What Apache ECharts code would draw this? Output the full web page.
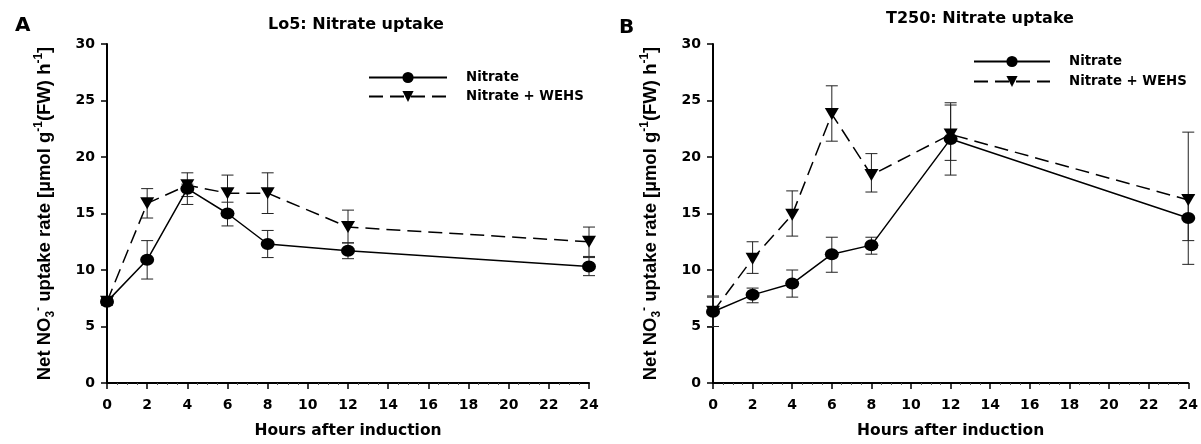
<!DOCTYPE html>
<html>
<head>
<meta charset="utf-8">
<script src="https://cdn.jsdelivr.net/npm/echarts@6/dist/echarts.min.js"></script>
<style>
  html, body { margin: 0; padding: 0; background: #fff; }
  #main { width: 1201px; height: 444px; }
</style>
</head>
<body>
<div id="main"></div>
<script>
// hours after induction
var hours = [0, 2, 4, 6, 8, 12, 24];
var xTicks = [0, 2, 4, 6, 8, 10, 12, 14, 16, 18, 20, 22, 24];
var yTicks = [0, 5, 10, 15, 20, 25, 30];

// panel A: Lo5
var lo5Nitrate     = [7.2, 10.9, 17.2, 15.0, 12.3, 11.7, 10.3];
var lo5NitrateLow  = [6.9, 9.2, 15.8, 13.9, 11.1, 11.0, 9.5];
var lo5NitrateHigh = [7.5, 12.6, 17.6, 16.0, 13.5, 12.4, 11.1];
var lo5Wehs        = [7.2, 15.9, 17.5, 16.8, 16.8, 13.8, 12.5];
var lo5WehsLow     = [6.9, 14.6, 16.5, 15.2, 15.0, 12.4, 11.2];
var lo5WehsHigh    = [7.5, 17.2, 18.6, 18.4, 18.6, 15.3, 13.8];

// panel B: T250
var t250Nitrate     = [6.3, 7.8, 8.8, 11.4, 12.2, 21.6, 14.6];
var t250NitrateLow  = [5.0, 7.1, 7.6, 9.8, 11.4, 18.4, 10.5];
var t250NitrateHigh = [7.6, 8.4, 10.0, 12.9, 12.9, 24.8, 16.6];
var t250Wehs        = [6.3, 11.0, 14.9, 23.8, 18.4, 22.0, 16.2];
var t250WehsLow     = [5.0, 9.7, 13.0, 21.4, 16.9, 19.7, 12.6];
var t250WehsHigh    = [7.7, 12.5, 17.0, 26.3, 20.3, 24.6, 22.2];

var FONT = '"DejaVu Sans", "Liberation Sans", Arial, sans-serif';
var VFONT = '"Liberation Sans", Arial, sans-serif';
var TRI = 'path://M0,0 L12,0 L6,11 Z';

function pairs(ys) { return hours.map(function (h, i) { return [h, ys[i]]; }); }
function errData(lo, hi) { return hours.map(function (h, i) { return [h, lo[i], hi[i]]; }); }

function renderErr(params, api) {
  var x = api.value(0);
  var p1 = api.coord([x, api.value(1)]);
  var p2 = api.coord([x, api.value(2)]);
  var w = 6;
  var st = { stroke: '#222', lineWidth: 1 };
  return {
    type: 'group',
    children: [
      { type: 'line', shape: { x1: p1[0], y1: p1[1], x2: p2[0], y2: p2[1] }, style: st },
      { type: 'line', shape: { x1: p1[0] - w, y1: p1[1], x2: p1[0] + w, y2: p1[1] }, style: st },
      { type: 'line', shape: { x1: p2[0] - w, y1: p2[1], x2: p2[0] + w, y2: p2[1] }, style: st }
    ]
  };
}

var yName = '{n|Net NO}{sub|3}{sup|-}{n| uptake rate [µmol g}{sup|-1}{n|(FW) h}{sup|-1}{n|]}';
var yRich = {
  n:   { fontSize: 18.5, fontWeight: 'bold', fontFamily: VFONT, color: '#000', lineHeight: 24 },
  sup: { fontSize: 12, fontWeight: 'bold', fontFamily: VFONT, color: '#000', lineHeight: 24, verticalAlign: 'top' },
  sub: { fontSize: 12, fontWeight: 'bold', fontFamily: VFONT, color: '#000', lineHeight: 24, verticalAlign: 'bottom' }
};

function xAxisFor(idx) {
  return {
    type: 'value', gridIndex: idx, min: 0, max: 24, interval: 2,
    name: 'Hours after induction', nameLocation: 'middle', nameGap: 40,
    nameTextStyle: { fontSize: 15.5, fontWeight: 'bold', fontFamily: FONT, color: '#000' },
    axisLine: { lineStyle: { color: '#000', width: 2 } },
    axisTick: { length: 6, lineStyle: { color: '#000', width: 1.5 } },
    minorTick: { show: true, splitNumber: 4, length: 2, lineStyle: { color: '#555', width: 1 } },
    axisLabel: { fontSize: 14, fontWeight: 'bold', fontFamily: FONT, color: '#000', margin: 15,
      formatter: function (v) { return xTicks.indexOf(v) >= 0 ? String(v) : ''; } },
    splitLine: { show: false }
  };
}
function yAxisFor(idx) {
  return {
    type: 'value', gridIndex: idx, min: 0, max: 30, interval: 5,
    name: yName, nameLocation: 'middle', nameGap: 50, nameRotate: 90,
    nameTextStyle: { rich: yRich },
    axisLine: { show: true, lineStyle: { color: '#000', width: 2 } },
    axisTick: { show: true, length: 6, lineStyle: { color: '#000', width: 1.5 } },
    axisLabel: { fontSize: 14, fontWeight: 'bold', fontFamily: FONT, color: '#000', margin: 12,
      formatter: function (v) { return yTicks.indexOf(v) >= 0 ? String(v) : ''; } },
    splitLine: { show: false }
  };
}

function lineSeries(name, data, idx, dashed, symbol) {
  return {
    name: name, type: 'line', xAxisIndex: idx, yAxisIndex: idx, data: pairs(data),
    symbol: symbol, symbolSize: [14, 12], z: 3,
    lineStyle: { color: '#000', width: 1.5, type: dashed ? [14, 7] : 'solid' },
    itemStyle: { color: '#000' }
  };
}
function errSeries(lo, hi, idx) {
  return {
    type: 'custom', xAxisIndex: idx, yAxisIndex: idx, data: errData(lo, hi),
    renderItem: renderErr, z: 2, silent: true
  };
}

var legendText = { fontSize: 13.3, fontWeight: 'bold', fontFamily: FONT, color: '#000', padding: [0, 0, 0, 14] };
var titleText = { fontSize: 16, fontWeight: 'bold', fontFamily: FONT, color: '#000' };
var letterText = { fontSize: 20, fontWeight: 'bold', fontFamily: FONT, color: '#000' };

var option = {
  animation: false,
  backgroundColor: '#fff',
  title: [
    { text: 'Lo5: Nitrate uptake', left: 356, top: 17, textAlign: 'center', padding: 0, textStyle: titleText },
    { text: 'T250: Nitrate uptake', left: 980, top: 11, textAlign: 'center', padding: 0, textStyle: titleText },
    { text: 'A', left: 15, top: 16, padding: 0, textStyle: letterText },
    { text: 'B', left: 619, top: 18, padding: 0, textStyle: letterText }
  ],
  legend: [
    { left: 368, top: 71, orient: 'vertical', padding: 0, itemWidth: 78, itemHeight: 14, itemGap: 6,
      textStyle: legendText, data: ['Nitrate', 'Nitrate + WEHS'] },
    { left: 973, top: 55, orient: 'vertical', padding: 0, itemWidth: 76, itemHeight: 14, itemGap: 7,
      textStyle: legendText, data: ['Nitrate', 'Nitrate + WEHS'] }
  ],
  grid: [
    { left: 107, top: 44, width: 482, height: 345 },
    { left: 713, top: 44, width: 481, height: 344 }
  ],
  xAxis: [xAxisFor(0), xAxisFor(1)],
  yAxis: [yAxisFor(0), yAxisFor(1)],
  series: [
    errSeries(lo5NitrateLow, lo5NitrateHigh, 0),
    errSeries(lo5WehsLow, lo5WehsHigh, 0),
    lineSeries('Nitrate', lo5Nitrate, 0, false, 'circle'),
    lineSeries('Nitrate + WEHS', lo5Wehs, 0, true, TRI),
    errSeries(t250NitrateLow, t250NitrateHigh, 1),
    errSeries(t250WehsLow, t250WehsHigh, 1),
    lineSeries('Nitrate', t250Nitrate, 1, false, 'circle'),
    lineSeries('Nitrate + WEHS', t250Wehs, 1, true, TRI)
  ]
};

var chart = echarts.init(document.getElementById('main'));
chart.setOption(option);
</script>
</body>
</html>
